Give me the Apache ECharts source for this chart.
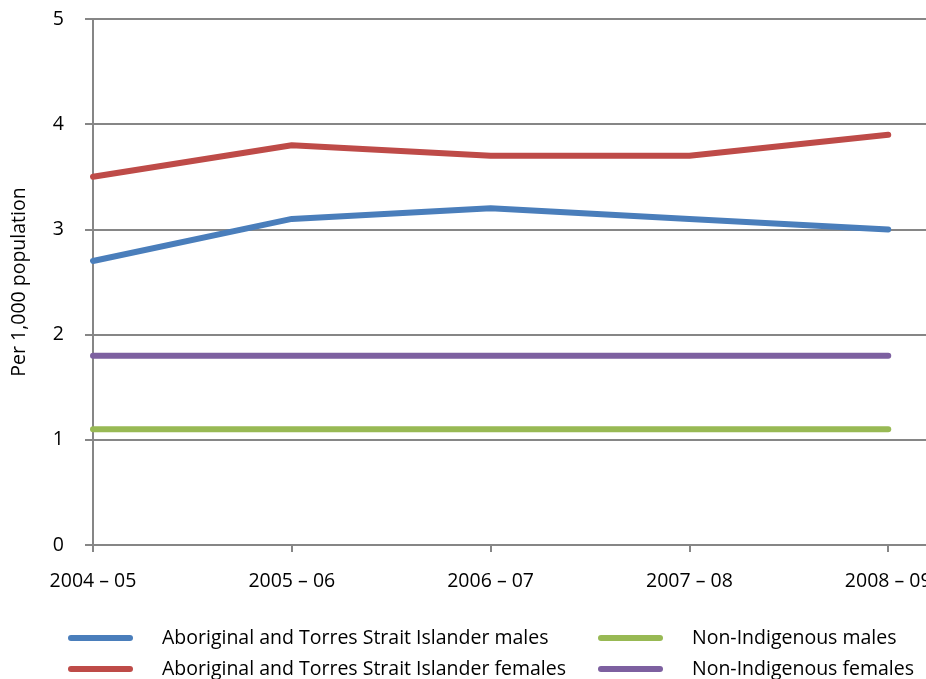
<!DOCTYPE html>
<html>
<head>
<meta charset="utf-8">
<script src="https://cdn.jsdelivr.net/npm/echarts@6/dist/echarts.min.js"></script>
<style>
  html, body { margin: 0; padding: 0; background: #fff; }
  #chart { width: 926px; height: 679px; }
</style>
</head>
<body>
<div id="chart"></div>
<script>
// Financial years along the x axis
const years = ['2004 – 05', '2005 – 06', '2006 – 07', '2007 – 08', '2008 – 09'];
// Rates per 1,000 population
const indigenousMales = [2.7, 3.1, 3.2, 3.1, 3.0];
const indigenousFemales = [3.5, 3.8, 3.7, 3.7, 3.9];
const nonIndigenousMales = [1.1, 1.1, 1.1, 1.1, 1.1];
const nonIndigenousFemales = [1.8, 1.8, 1.8, 1.8, 1.8];
const yTicks = [0, 1, 2, 3, 4, 5];

const seriesDefs = [
  { name: 'Aboriginal and Torres Strait Islander males', values: indigenousMales, color: '#4A7EBB' },
  { name: 'Aboriginal and Torres Strait Islander females', values: indigenousFemales, color: '#BE4B48' },
  { name: 'Non-Indigenous males', values: nonIndigenousMales, color: '#98B954' },
  { name: 'Non-Indigenous females', values: nonIndigenousFemales, color: '#7D60A0' }
];

const FONT = '"Open Sans", "Noto Sans", sans-serif';
const FS = 19.5;
const lineIcon = 'path://M3,0 H62 A3,3 0 0 1 62,6 H3 A3,3 0 0 1 3,0 Z';
const legendPos = [
  { left: 68, top: 628 },
  { left: 68, top: 659 },
  { left: 598, top: 628 },
  { left: 598, top: 659 }
];
const yearIndex = years.map((_, i) => i);

const chart = echarts.init(document.getElementById('chart'), null, { renderer: 'canvas' });

chart.setOption({
  animation: false,
  backgroundColor: '#fff',
  textStyle: { fontFamily: FONT },
  grid: {
    left: 93, right: 0, top: 19, bottom: 134,
    containLabel: false,
    outerBoundsMode: 'none'
  },
  legend: seriesDefs.map((s, i) => ({
    data: [s.name],
    left: legendPos[i].left,
    top: legendPos[i].top,
    icon: lineIcon,
    itemWidth: 65,
    itemHeight: 6,
    padding: 0,
    selectedMode: false,
    textStyle: {
      fontFamily: FONT,
      fontSize: FS,
      color: '#000',
      padding: [0, 0, 0, 24]
    }
  })),
  xAxis: {
    type: 'value',
    min: 0,
    max: 4.19,
    interval: 1,
    axisLine: { show: true, lineStyle: { color: '#868686', width: 2 } },
    axisTick: {
      show: true, length: 7, customValues: yearIndex,
      lineStyle: { color: '#868686', width: 2 }
    },
    splitLine: { show: false },
    axisLabel: {
      color: '#000',
      fontSize: FS,
      fontFamily: FONT,
      margin: 26,
      hideOverlap: false,
      customValues: yearIndex,
      formatter: v => years[Math.round(v)] || ''
    }
  },
  yAxis: {
    type: 'value',
    min: yTicks[0],
    max: yTicks[yTicks.length - 1],
    interval: 1,
    name: 'Per 1,000 population',
    nameLocation: 'middle',
    nameGap: 64,
    nameRotate: 90,
    nameTextStyle: { color: '#000', fontSize: FS, fontFamily: FONT },
    axisLine: { show: true, lineStyle: { color: '#868686', width: 2 } },
    axisTick: { show: true, length: 8, lineStyle: { color: '#868686', width: 2 } },
    splitLine: { show: true, lineStyle: { color: '#868686', width: 2 } },
    axisLabel: { color: '#000', fontSize: FS, fontFamily: FONT, margin: 29 }
  },
  series: seriesDefs.map(s => ({
    name: s.name,
    type: 'line',
    data: s.values.map((v, i) => [i, v]),
    symbol: 'none',
    color: s.color,
    lineStyle: { color: s.color, width: 6, cap: 'round', join: 'round' },
    z: 3
  }))
});
</script>
</body>
</html>
